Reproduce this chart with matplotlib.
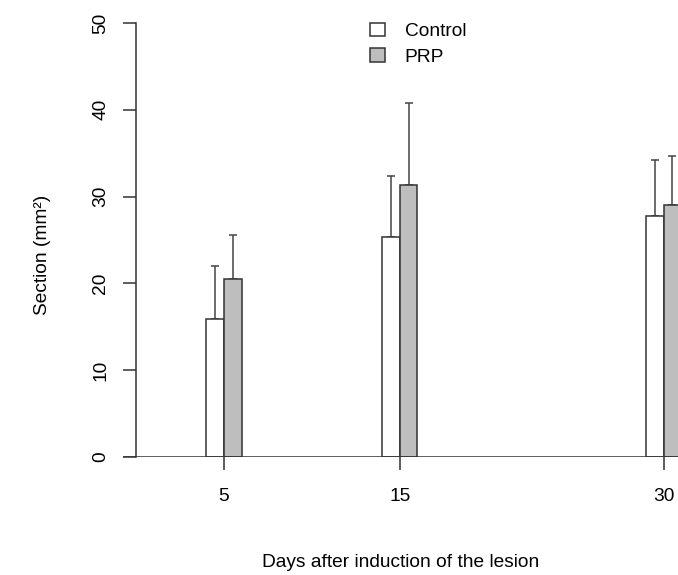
import matplotlib
matplotlib.use("Agg")
import matplotlib.pyplot as plt
from matplotlib.patches import Patch

plt.rcParams['font.family'] = ['Liberation Sans', 'DejaVu Sans']

days = [5, 15, 30]
day_labels = ["5", "15", "30"]
control_mean = [15.9, 25.4, 27.8]
control_sd = [6.1, 7.0, 6.4]
prp_mean = [20.5, 31.3, 29.0]
prp_sd = [5.1, 9.5, 5.7]
series_names = ["Control", "PRP"]
yticks = [0, 10, 20, 30, 40, 50]

W, H = 678, 575
fig = plt.figure(figsize=(W / 100, H / 100), dpi=100)
ax = fig.add_axes([123 / W, (H - 457) / H, 555 / W, 434 / H])
ax.set_xlim(-0.745, 30.82)
ax.set_ylim(0, 50)

edge = "#333333"
fs = 13.8
bw = 1.0
cx = [d - bw / 2 for d in days]
px = [d + bw / 2 for d in days]
ax.bar(cx, control_mean, width=bw, color="white", edgecolor=edge, linewidth=1.1, zorder=2)
ax.bar(px, prp_mean, width=bw, color="#bebebe", edgecolor=edge, linewidth=1.1, zorder=2)
ax.errorbar(cx, control_mean, yerr=[[0] * 3, control_sd], fmt="none", ecolor="#444444",
            elinewidth=1.1, capsize=2.8, capthick=1.1, zorder=1)
ax.errorbar(px, prp_mean, yerr=[[0] * 3, prp_sd], fmt="none", ecolor="#444444",
            elinewidth=1.1, capsize=2.8, capthick=1.1, zorder=1)

ax.axhline(0, color=edge, linewidth=1.1, zorder=3)

for s in ["top", "right", "bottom"]:
    ax.spines[s].set_visible(False)
ax.spines["left"].set_position(("data", 0))
ax.spines["left"].set_bounds(0, 50)
ax.spines["left"].set_color(edge)
ax.spines["left"].set_linewidth(1.1)

ax.set_xticks(days)
ax.set_xticklabels(day_labels)
ax.set_yticks(yticks)
ax.set_yticklabels([str(v) for v in yticks], rotation=90, va="center")
ax.tick_params(axis="x", length=9, width=1.1, color=edge, pad=13, labelsize=fs)
ax.tick_params(axis="y", length=9.4, width=1.1, color=edge, pad=10, labelsize=fs)

ax.set_xlabel("Days after induction of the lesion", fontsize=fs, va="top")
ax.xaxis.set_label_coords(0.501, -0.2235)
ax.set_ylabel("Section (mm²)", fontsize=fs)
ax.yaxis.set_label_coords(-0.1297, 0.4654)

handles = [Patch(facecolor="white", edgecolor=edge, linewidth=1.1),
           Patch(facecolor="#bebebe", edgecolor=edge, linewidth=1.1)]
ax.legend(handles, series_names, loc="upper left", bbox_to_anchor=(370 / W, 1 - 23 / H),
          bbox_transform=fig.transFigure, frameon=False, fontsize=fs, handlelength=0.8,
          handleheight=0.7, handletextpad=1.0, labelspacing=0.42, borderpad=0, borderaxespad=0)

fig.savefig("out.png", dpi=100)
